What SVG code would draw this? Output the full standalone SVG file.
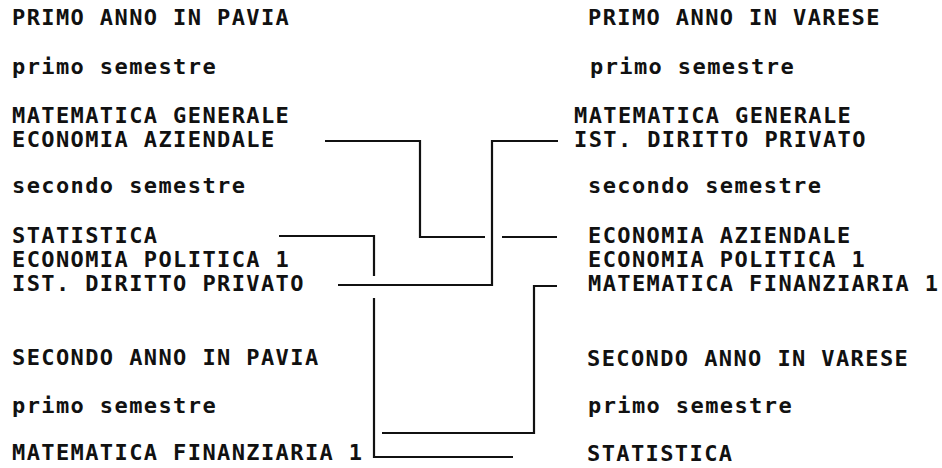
<svg xmlns="http://www.w3.org/2000/svg" width="942" height="468" viewBox="0 0 942 468">
<style>
text{font-family:"DejaVu Sans Mono","Liberation Mono",monospace;font-weight:bold;font-size:22px;letter-spacing:1.4px;fill:#111}
.c{fill:none;stroke:#111;stroke-width:2.2}
</style>
<rect width="942" height="468" fill="#fff"/>
<g id="pavia">
<g id="p-head"><text x="12" y="25">PRIMO ANNO IN PAVIA</text></g>
<g id="p-sem1"><text x="12" y="74">primo semestre</text></g>
<g id="p-matgen"><text x="12" y="123">MATEMATICA GENERALE</text></g>
<g id="p-ecoaz"><text x="12" y="147">ECONOMIA AZIENDALE</text></g>
<g id="p-sem2"><text x="12" y="193">secondo semestre</text></g>
<g id="p-stat"><text x="12" y="243">STATISTICA</text></g>
<g id="p-ecopol"><text x="12" y="267">ECONOMIA POLITICA 1</text></g>
<g id="p-istdir"><text x="12" y="291">IST. DIRITTO PRIVATO</text></g>
<g id="p-head2"><text x="12" y="365">SECONDO ANNO IN PAVIA</text></g>
<g id="p-sem3"><text x="12" y="413">primo semestre</text></g>
<g id="p-matfin"><text x="12" y="460">MATEMATICA FINANZIARIA 1</text></g>
</g>
<g id="varese">
<g id="v-head"><text x="588" y="25">PRIMO ANNO IN VARESE</text></g>
<g id="v-sem1"><text x="590" y="74">primo semestre</text></g>
<g id="v-matgen"><text x="574" y="123">MATEMATICA GENERALE</text></g>
<g id="v-istdir"><text x="574" y="147">IST. DIRITTO PRIVATO</text></g>
<g id="v-sem2"><text x="588" y="193">secondo semestre</text></g>
<g id="v-ecoaz"><text x="588" y="243">ECONOMIA AZIENDALE</text></g>
<g id="v-ecopol"><text x="588" y="267">ECONOMIA POLITICA 1</text></g>
<g id="v-matfin"><text x="588" y="291">MATEMATICA FINANZIARIA 1</text></g>
<g id="v-head2"><text x="587" y="366">SECONDO ANNO IN VARESE</text></g>
<g id="v-sem3"><text x="588" y="413">primo semestre</text></g>
<g id="v-stat"><text x="587" y="461">STATISTICA</text></g>
</g>
<g id="connectors">
<path class="c" d="M325,141 H420 V237 H485 M502,237 H557"/>
<path class="c" d="M338,285 H492 V141 H558"/>
<path class="c" d="M279,236 H374 V276 M374,298 V457 H513"/>
<path class="c" d="M382,433 H534 V286 H557"/>
</g>
</svg>
